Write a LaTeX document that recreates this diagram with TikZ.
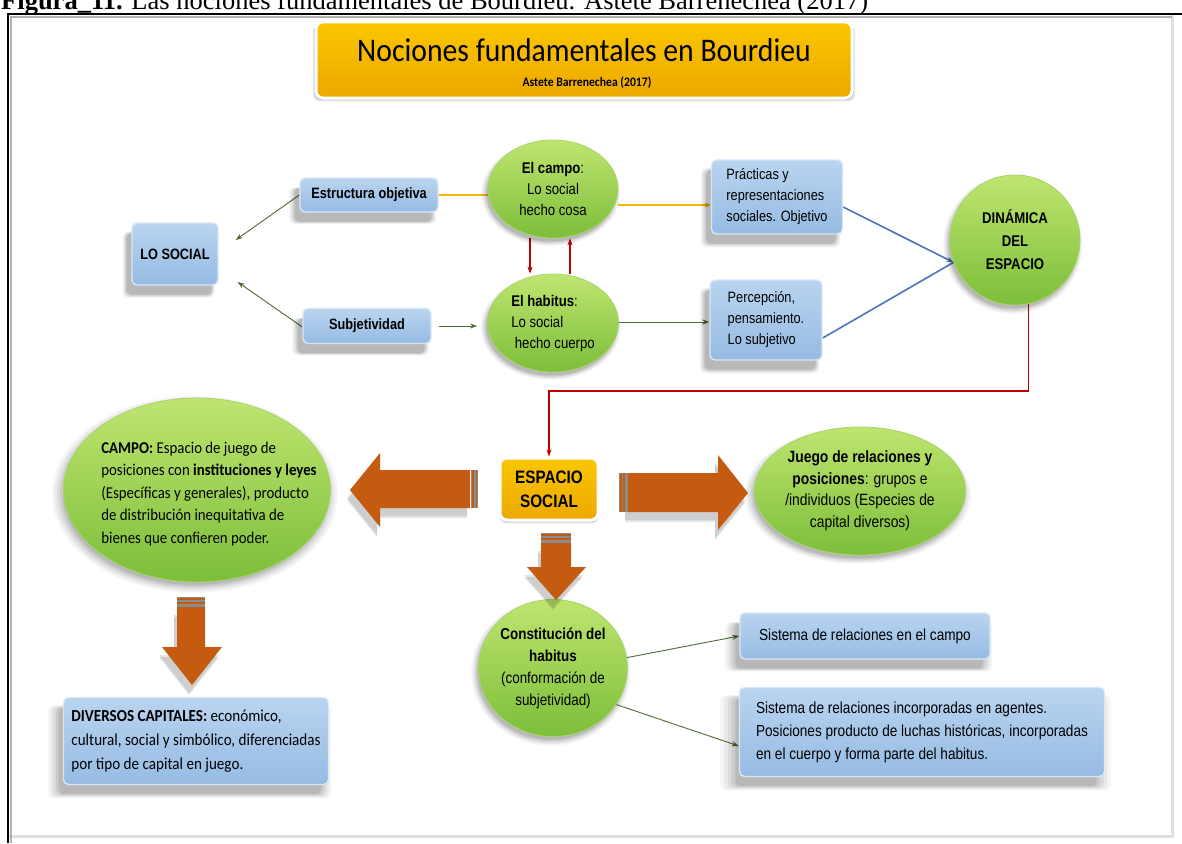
\documentclass[tikz,border=0pt]{standalone}
\usepackage{fontspec}
\setmainfont{Liberation Sans}
\newfontfamily\narrowsans[FakeStretch=0.85]{Liberation Sans}
\newfontfamily\calibri[FakeStretch=0.9]{Carlito}
\newfontfamily\serifcap{Liberation Serif}
\usetikzlibrary{shapes.geometric,arrows.meta,shadows,calc}

\definecolor{boxtop}{HTML}{B9D4EF}
\definecolor{boxbot}{HTML}{96BBE3}
\definecolor{boxrim}{HTML}{D8E7F6}
\definecolor{greentop}{HTML}{BFE570}
\definecolor{greenbot}{HTML}{7CBE3A}
\definecolor{greenrim}{HTML}{A8D466}
\definecolor{goldtop}{HTML}{FAC600}
\definecolor{goldbot}{HTML}{EDA800}
\definecolor{rust}{HTML}{C55A11}
\definecolor{stripe}{HTML}{8C8C8C}
\definecolor{olive}{HTML}{506A34}
\definecolor{darkred}{HTML}{C00000}
\definecolor{linkblue}{HTML}{4A74C0}
\definecolor{linkgold}{HTML}{F4B800}

\newcommand\fsz[2]{\fontsize{#1}{#2}\selectfont}

\pgfdeclarelayer{links}
\pgfsetlayers{links,main}

\begin{document}
\begin{tikzpicture}[x=1pt,y=-1pt,
  % soft shadow built from a few stacked translucent copies
  softshadow/.style 2 args={
    general shadow={shadow xshift=#1, shadow yshift=#2, shadow scale=1.07, fill=black, opacity=0.04},
    general shadow={shadow xshift=#1, shadow yshift=#2, shadow scale=1.05, fill=black, opacity=0.05},
    general shadow={shadow xshift=#1, shadow yshift=#2, shadow scale=1.03, fill=black, opacity=0.06},
    general shadow={shadow xshift=#1, shadow yshift=#2, shadow scale=1.01, fill=black, opacity=0.08},
    general shadow={shadow xshift=#1, shadow yshift=#2, shadow scale=0.99, fill=black, opacity=0.09}},
  bluebox/.style={rectangle, rounded corners=5pt, draw=boxrim, line width=1.4pt,
    top color=boxtop, bottom color=boxbot, inner sep=0pt, softshadow={-6pt}{-10pt}},
  greenball/.style={ellipse, draw=greenrim, line width=0.8pt,
    top color=greentop, bottom color=greenbot, inner sep=0pt, softshadow={-2pt}{-4pt}},
  goldbox/.style={rectangle, rounded corners=7pt, draw=white, line width=3pt,
    top color=goldtop, bottom color=goldbot, inner sep=0pt,
    general shadow={shadow yshift=-3pt, shadow scale=1.012, fill=black, opacity=0.10},
    general shadow={shadow yshift=-2pt, shadow scale=1.006, fill=black, opacity=0.14}},
  narrowtxt/.style={font=\narrowsans\fsz{#1}{21}},
  oliveline/.style={draw=olive, line width=0.9pt, -{Stealth[length=7pt,width=5pt]}},
  redline/.style={draw=darkred, line width=1.3pt, -{Stealth[length=7pt,width=5pt]}},
  blueline/.style={draw=linkblue, line width=1.6pt},
  goldline/.style={draw=linkgold, line width=1.6pt},
  blockarrow/.style={fill=rust,
    general shadow={shadow xshift=-3pt, shadow yshift=-10pt, fill=black, opacity=0.10},
    general shadow={shadow xshift=-3pt, shadow yshift=-8pt, fill=black, opacity=0.10}},
  tailstripe/.style={fill=stripe},
]
\useasboundingbox (0,0) rectangle (1182,843);

% caption line above the frame
\node[anchor=base west, inner sep=0pt, font=\serifcap\fsz{26.5}{26.5}] (caption) at (1,10)
  {\textbf{Figura\_11.} Las nociones fundamentales de Bourdieu. Astete Barrenechea (2017)};

% frame
\draw[black!12, line width=3pt] (1172,15) -- (1172,836) -- (9,836);
\draw[black!30, line width=2pt] (11,843) -- (11,17) -- (1172,17);
\draw[black, line width=1.6pt] (8,843) -- (8,14) -- (1182,14);

% title
\node[goldbox, minimum width=536, minimum height=76] (title) at (584,60) {};
\node[inner sep=0pt, font=\calibri\fsz{33}{33}] (titlemain) at (584,50) {Nociones fundamentales en Bourdieu};
\node[inner sep=0pt, font=\calibri\bfseries\fsz{13}{13}] (titlesub) at (587,83) {Astete Barrenechea (2017)};

% upper block
\node[bluebox, minimum width=86, minimum height=62, narrowtxt=15] (losocial) at (175,254) {\bfseries LO SOCIAL};
\node[bluebox, minimum width=138, minimum height=34, narrowtxt=15] (estructura) at (369,195) {\bfseries Estructura objetiva};
\node[bluebox, minimum width=128, minimum height=35, narrowtxt=15] (subjetividad) at (367,326) {\bfseries Subjetividad};

\node[greenball, minimum width=130, minimum height=98, narrowtxt=15.5, align=center] (campo) at (553,189)
  {\textbf{El campo}:\\Lo social\\hecho cosa};
\node[greenball, minimum width=131, minimum height=98, narrowtxt=15.5, align=left] (habitus) at (553,323)
  {\textbf{El habitus}:\\Lo social\\\ hecho cuerpo};

\node[bluebox, minimum width=131, minimum height=74, narrowtxt=15, align=left] (practicas) at (777,197)
  {Prácticas y\\representaciones\\sociales. Objetivo};
\node[bluebox, minimum width=112, minimum height=80, narrowtxt=15, align=left] (percepcion) at (766,320)
  {Percepción,\\pensamiento.\\Lo subjetivo};

\node[greenball, minimum width=130, minimum height=130, font=\narrowsans\bfseries\fsz{15.5}{23}, align=center] (dinamica) at (1015,240)
  {DINÁMICA\\DEL\\ESPACIO};

% centre block
\node[goldbox, minimum width=98, minimum height=62, font=\narrowsans\bfseries\fsz{18}{24}, align=center] (espacio) at (549,489)
  {ESPACIO\\SOCIAL};

\node[greenball, minimum width=267, minimum height=184] (campob) at (197,490) {};
\node[inner sep=0pt, font=\calibri\fsz{16.5}{22.5}, align=left] (campotxt) at (209,494)
  {\textbf{CAMPO:} Espacio de juego de\\posiciones con \textbf{instituciones y leyes}\\(Específicas y generales), producto\\de distribución inequitativa de\\bienes que confieren poder.};

\node[greenball, minimum width=205, minimum height=128, font=\narrowsans\fsz{16.3}{21.5}, align=center] (juego) at (860,491)
  {\textbf{Juego de relaciones y}\\\textbf{posiciones}: grupos e\\/individuos (Especies de\\capital diversos)};

% lower block
\node[bluebox, minimum width=265, minimum height=87, font=\calibri\fsz{16.8}{24}, align=left] (capitales) at (196,741)
  {\textbf{DIVERSOS CAPITALES:} económico,\\cultural, social y simbólico, diferenciadas\\por tipo de capital en juego.};

\node[greenball, minimum width=140, minimum height=137, font=\narrowsans\fsz{15.8}{22}, align=center] (constitucion) at (553,668)
  {\textbf{Constitución del}\\\textbf{habitus}\\(conformación de\\subjetividad)};

\node[bluebox, minimum width=250, minimum height=46, font=\narrowsans\fsz{16}{21}] (sisuno) at (865,636)
  {Sistema de relaciones en el campo};
\node[bluebox, minimum width=365, minimum height=89, font=\narrowsans\fsz{16}{23}, align=left] (sisdos) at (922,732)
  {Sistema de relaciones incorporadas en agentes.\\Posiciones producto de luchas históricas, incorporadas\\en el cuerpo y forma parte del habitus.};

% block arrows
\fill[blockarrow] (470,470) -- (380,470) -- (380,453) -- (350,490) -- (380,527) -- (380,508) -- (470,508) -- cycle;
\fill[tailstripe] (470.5,470) rectangle (478,508);
\fill[rust] (472,470) rectangle (474,508);
\fill[rust] (475.5,470) rectangle (477,508);

\fill[blockarrow] (628,473) -- (718,473) -- (718,455) -- (748,493) -- (718,530) -- (718,512) -- (628,512) -- cycle;
\fill[tailstripe] (619,473) rectangle (627.5,512);
\fill[rust] (620,473) rectangle (621.5,512);
\fill[rust] (623,473) rectangle (625,512);

\fill[blockarrow] (541,543) -- (541,567) -- (527,567) -- (556,600) -- (586,567) -- (571,567) -- (571,543) -- cycle;
\fill[tailstripe] (541,533) rectangle (571,542.5);
\fill[rust] (541,534) rectangle (571,535.5);
\fill[rust] (541,537.5) rectangle (571,539.5);

\fill[blockarrow] (177,607) -- (177,647) -- (162,647) -- (192,685) -- (222,647) -- (205,647) -- (205,607) -- cycle;
\fill[tailstripe] (177,597) rectangle (205,606.5);
\fill[rust] (177,598) rectangle (205,599.5);
\fill[rust] (177,601.5) rectangle (205,603.5);

% connectors
\begin{pgfonlayer}{links}
\draw[oliveline] (estructura.west) -- ([xshift=17pt,yshift=14pt]losocial.east);
\draw[oliveline] ([yshift=-1pt]subjetividad.west) -- ([xshift=19pt,yshift=-28pt]losocial.east);
\draw[oliveline, shorten <=7pt, shorten >=10pt] (subjetividad.east) -- (habitus.west |- subjetividad.east);
\draw[goldline] (estructura.east) -- (campo.west |- estructura.east);
\draw[goldline, -{Stealth[length=6pt,width=5pt]}] (campo.east |- 0,205) -- (practicas.west |- 0,205);
\draw[redline] ([xshift=-23pt]campo.south) -- ([xshift=-23pt]habitus.north);
\draw[redline] ([xshift=17pt]habitus.north) -- ([xshift=17pt]campo.south);
\draw[oliveline] (habitus.east |- 0,322) -- (percepcion.west |- 0,322);
\draw[blueline, -{Stealth[length=7pt,width=5pt]}] ([yshift=-10pt]practicas.east) -- (dinamica.200);
\draw[blueline] ([yshift=-18pt]percepcion.east) -- (dinamica.200);
\draw[redline] (dinamica.-78) -- (dinamica.-78 |- 0,391) -| (espacio.north);
\draw[oliveline] (constitucion.8) -- (sisuno.west);
\draw[oliveline] (constitucion.-30) -- ([yshift=-14pt]sisdos.west);
\end{pgfonlayer}
\end{tikzpicture}
\end{document}
